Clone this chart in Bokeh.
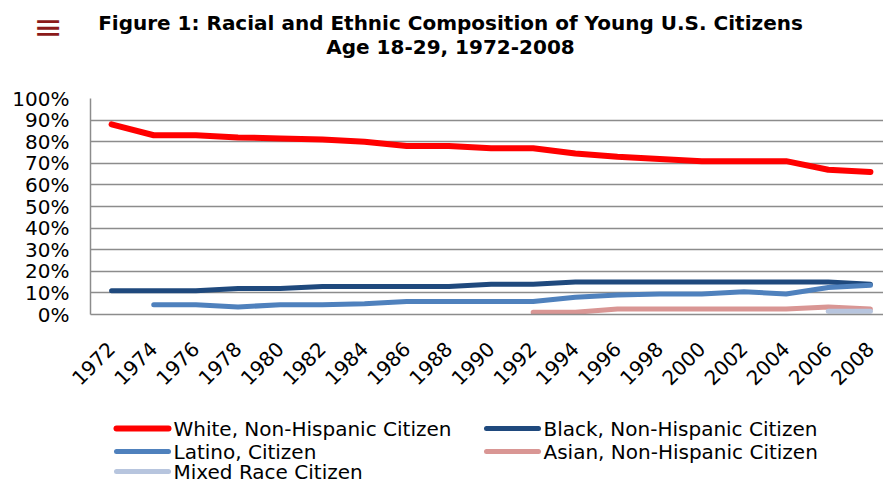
from math import pi

from bokeh.core.properties import value
from bokeh.embed import file_html
from bokeh.layouts import column
from bokeh.models import FixedTicker, PrintfTickFormatter, Range1d
from bokeh.plotting import figure
from bokeh.resources import INLINE

# Share of young (18-29) U.S. citizens by group, percent
years = list(range(1972, 2009, 2))
white = [88, 83, 83, 82, 81.5, 81, 80, 78, 78, 77, 77, 74.5, 73, 72, 71, 71, 71, 67, 66]
black = [11, 11, 11, 12, 12, 13, 13, 13, 13, 14, 14, 15, 15, 15, 15, 15, 15, 15, 14]

latino_years = list(range(1974, 2009, 2))
latino = [4.5, 4.5, 3.5, 4.5, 4.5, 5, 6, 6, 6, 6, 8, 9, 9.5, 9.5, 10.5, 9.5, 12.5, 13.5]

asian_years = list(range(1992, 2009, 2))
asian = [1, 1, 2.5, 2.5, 2.5, 2.5, 2.5, 3.5, 2.5]

mixed_years = [2006, 2008]
mixed = [1.5, 1.5]

y_ticks = list(range(0, 101, 10))

title_lines = ["Figure 1: Racial and Ethnic Composition of Young U.S. Citizens",
               "Age 18-29, 1972-2008"]

series = [
    ("White, Non-Hispanic Citizen", years, white, "#ff0000", 6),
    ("Black, Non-Hispanic Citizen", years, black, "#1f497d", 5),
    ("Latino, Citizen", latino_years, latino, "#4f81bd", 5),
    ("Asian, Non-Hispanic Citizen", asian_years, asian, "#d99694", 5),
    ("Mixed Race Citizen", mixed_years, mixed, "#b7c5de", 5),
]

FONT = "DejaVu Sans"
GRID = "#8c8c8c"
ICON = "#8b1a1a"
W = 883
LEFT = 90            # width of the y-axis gutter shared by all three strips
HEADER_H = 70
FOOTER_H = 72
MAIN_H = 482 - HEADER_H - FOOTER_H


def strip(height):
    """A plain drawing strip whose data units are canvas pixels (y grows down)."""
    f = figure(width=W, height=height, output_backend="svg", toolbar_location=None,
               x_range=Range1d(LEFT, W), y_range=Range1d(height, 0),
               x_axis_type=None, min_border=0, min_border_left=LEFT)
    f.outline_line_color = None
    f.grid.visible = False
    return f


# ---- header: menu icon (as the gutter label) and the two-line title ----
head = strip(HEADER_H)
head.yaxis.ticker = FixedTicker(ticks=[14])
head.yaxis.major_label_overrides = {14: "\u2261"}
head.yaxis.axis_line_color = None
head.yaxis.major_tick_line_color = None
head.yaxis.minor_tick_line_color = None
head.yaxis.major_label_standoff = 22
head.yaxis.major_label_text_color = ICON
head.yaxis.major_label_text_font = FONT
head.yaxis.major_label_text_font_size = "35px"
head.text(x=[450, 450], y=[22, 46], text=title_lines,
          text_align="center", text_baseline="middle",
          text_font=value(FONT), text_font_style="bold",
          text_font_size="20px", text_color="black")

# ---- main chart ----
p = figure(width=W, height=MAIN_H, output_backend="svg", toolbar_location=None,
           x_range=Range1d(1971, 2008.62), y_range=Range1d(0, 100),
           min_border_left=LEFT, min_border_right=0,
           min_border_top=98 - HEADER_H, min_border_bottom=MAIN_H - (98 - HEADER_H) - 216)
p.outline_line_color = None

p.xgrid.grid_line_color = None
p.ygrid.grid_line_color = GRID
p.ygrid.grid_line_width = 1.5
p.yaxis.ticker = FixedTicker(ticks=y_ticks)
p.yaxis.formatter = PrintfTickFormatter(format="%d%%")
p.xaxis.ticker = FixedTicker(ticks=years)

for ax in (p.xaxis, p.yaxis):
    ax.axis_line_color = GRID
    ax.axis_line_width = 1.5
    ax.major_tick_line_color = None
    ax.minor_tick_line_color = None
    ax.major_tick_out = 0
    ax.major_tick_in = 0
    ax.major_label_text_font = FONT
    ax.major_label_text_font_size = "20px"
    ax.major_label_text_color = "black"

p.yaxis.major_label_standoff = 21
p.xaxis.major_label_orientation = pi / 4
p.xaxis.major_label_standoff = 31

for name, xs, ys, color, w in series:
    p.line(xs, ys, line_color=color, line_width=w, line_cap="round", line_join="round")

# ---- footer: two-column legend (left column first) ----
foot = strip(FOOTER_H)
foot.yaxis.visible = False
col_x = [116, 486]          # swatch start of each column
row_y = [18, 41, 61]        # row centres
swatch_w, gap = 52, 5
placement = {"White, Non-Hispanic Citizen": (0, 0), "Latino, Citizen": (0, 1),
             "Mixed Race Citizen": (0, 2), "Black, Non-Hispanic Citizen": (1, 0),
             "Asian, Non-Hispanic Citizen": (1, 1)}
for name, _, _, color, w in series:
    c, r = placement[name]
    x0, y0 = col_x[c], row_y[r]
    foot.segment(x0=[x0], y0=[y0], x1=[x0 + swatch_w], y1=[y0],
                 line_color=color, line_width=w, line_cap="round")
    foot.text(x=[x0 + swatch_w + gap], y=[y0], text=[name],
              text_align="left", text_baseline="middle",
              text_font=value(FONT), text_font_size="20px", text_color="black")

open("out.html", "w").write(file_html(column(head, p, foot, spacing=0), INLINE))
